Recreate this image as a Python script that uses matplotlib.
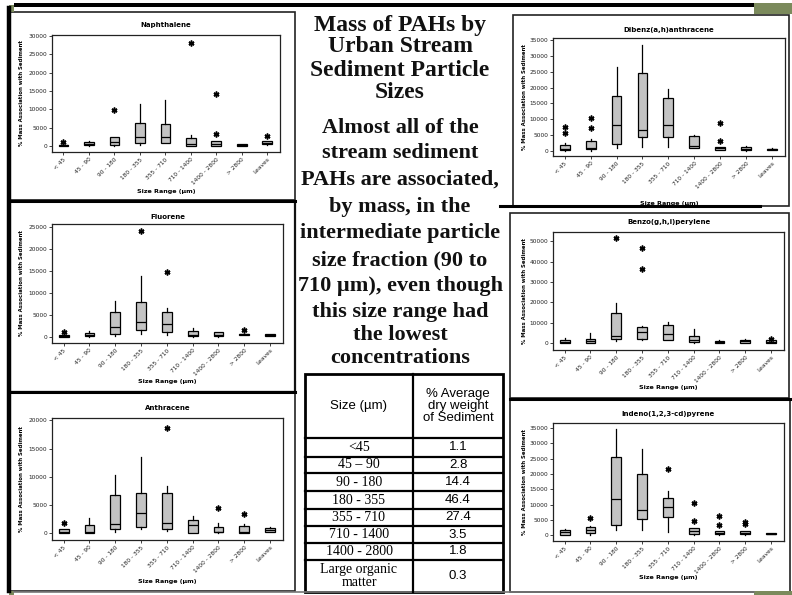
import matplotlib
matplotlib.use("Agg")
import matplotlib.pyplot as plt
from matplotlib.patches import Rectangle
from matplotlib.lines import Line2D

W, H = 792, 595

# Size classes on every box plot
categories = ["< 45", "45 - 90", "90 - 180", "180 - 355", "355 - 710",
              "710 - 1400", "1400 - 2800", "> 2800", "Leaves"]

# Box statistics per size class: [whisker low, Q1, median, Q3, whisker high]
naphthalene = [[0, 100, 250, 400, 700], [0, 200, 600, 1100, 1400],
               [0, 200, 1100, 2550, 2600], [350, 900, 2550, 6300, 11600],
               [900, 900, 2550, 5900, 12700], [0, 0, 600, 2300, 2900],
               [0, 0, 500, 1400, 1400], [100, 100, 300, 500, 500],
               [300, 450, 900, 1400, 1400]]
naphthalene_out = [(0, 1200), (2, 9750), (5, 28200), (6, 3400), (6, 14100), (8, 2650)]

fluorene = [[0, 0, 250, 500, 600], [0, 100, 500, 900, 1450],
            [300, 600, 2150, 5600, 8200], [750, 1600, 3300, 8050, 14000],
            [400, 1200, 2900, 5600, 6650], [0, 100, 500, 1300, 2050],
            [0, 100, 400, 1050, 1200], [400, 400, 550, 700, 700],
            [300, 300, 500, 700, 700]]
fluorene_out = [(0, 1150), (3, 24100), (4, 14750), (7, 1600)]

anthracene = [[100, 100, 250, 700, 800], [0, 100, 300, 1400, 2650],
              [300, 700, 1600, 6800, 10300], [800, 1180, 3650, 7050, 13500],
              [450, 800, 1750, 7200, 8350], [0, 0, 1400, 2300, 3150],
              [100, 250, 300, 1050, 1900], [100, 100, 250, 1250, 1600],
              [200, 300, 600, 900, 1200]]
anthracene_out = [(0, 1760), (4, 18700), (6, 4450), (7, 3450)]

dibenz = [[0, 200, 500, 1700, 2300], [0, 500, 950, 3100, 3600],
          [950, 2000, 8050, 17400, 26500], [1050, 4450, 6450, 24600, 33600],
          [1000, 4450, 8150, 16750, 19500], [700, 850, 1600, 4550, 4900],
          [200, 200, 900, 1270, 1300], [0, 100, 600, 1050, 1600],
          [200, 300, 450, 600, 800]]
dibenz_out = [(0, 5500), (0, 7400), (1, 7300), (1, 10300), (6, 3000), (6, 8900)]

benzo = [[0, 0, 800, 1600, 2600], [0, 300, 1300, 2000, 4900],
         [1100, 2300, 3400, 14700, 19600], [1800, 2000, 5400, 8150, 8500],
         [1500, 1600, 4700, 8800, 10300], [300, 500, 1600, 3400, 6850],
         [0, 150, 700, 1300, 1500], [200, 300, 900, 1450, 2300],
         [200, 300, 700, 1450, 1800]]
benzo_out = [(2, 51700), (3, 46900), (3, 36300), (8, 2200)]

indeno = [[0, 200, 1000, 1640, 2100], [200, 900, 1750, 2600, 3000],
          [1650, 3500, 11900, 25400, 34800], [1650, 5250, 8400, 19900, 28100],
          [1000, 5800, 9300, 12000, 14550], [0, 450, 1300, 2300, 2400],
          [0, 300, 800, 1300, 1400], [0, 300, 800, 1300, 1500],
          [300, 300, 500, 700, 700]]
indeno_out = [(1, 5500), (4, 21550), (5, 4500), (5, 10600), (6, 3300), (6, 6350),
              (7, 3700), (7, 4250)]

# Sediment dry-weight fractions table
table_sizes = ["<45", "45 \u2013 90", "90 - 180", "180 - 355", "355 - 710",
               "710 - 1400", "1400 - 2800", "Large organic\nmatter"]
table_pct = ["1.1", "2.8", "14.4", "46.4", "27.4", "3.5", "1.8", "0.3"]

title_lines = ["Mass of PAHs by", "Urban Stream", "Sediment Particle", "Sizes"]
body_lines = ["Almost all of the", "stream sediment", "PAHs are associated,",
              "by mass, in the", "intermediate particle", "size fraction (90 to",
              "710 \u00b5m), even though", "this size range had", "the lowest",
              "concentrations"]

fig = plt.figure(figsize=(W / 100, H / 100), dpi=100)
fig.patch.set_facecolor("white")


def fx(x):
    return x / W


def fy(y):
    return 1 - y / H


def px_axes(l, t, r, b, **kw):
    return fig.add_axes([fx(l), fy(b), (r - l) / W, (b - t) / H], **kw)


def rect(x0, y0, x1, y1, **kw):
    fig.add_artist(Rectangle((fx(x0), fy(y1)), (x1 - x0) / W, (y1 - y0) / H,
                             transform=fig.transFigure, **kw))


def hline(x0, x1, y, **kw):
    fig.add_artist(Line2D([fx(x0), fx(x1)], [fy(y), fy(y)], transform=fig.transFigure, **kw))


def vline(x, y0, y1, **kw):
    fig.add_artist(Line2D([fx(x), fx(x)], [fy(y0), fy(y1)], transform=fig.transFigure, **kw))


# Panel frames
rect(9, 12, 295, 200, fill=False, edgecolor="#222222", lw=1.2)
rect(9, 201, 295, 392, fill=False, edgecolor="#111111", lw=1.6)
rect(9, 393, 295, 591, fill=False, edgecolor="#222222", lw=1.2)
rect(513, 15, 789, 206, fill=False, edgecolor="#222222", lw=1.2)
rect(510, 213, 789, 398, fill=False, edgecolor="#222222", lw=1.2)
rect(510, 399, 790, 592, fill=False, edgecolor="#222222", lw=1.2)
hline(9, 295, 201, color="black", lw=2.2)
hline(9, 295, 392, color="black", lw=2.2)
hline(500, 760, 206, color="black", lw=2.2)
hline(510, 790, 399, color="black", lw=2.2)

# Slide decorations
rect(14, 3, 755, 7, facecolor="black", edgecolor="none")
vline(9, 8, 591, color="black", lw=3.2)
rect(9, 5, 14, 12, facecolor="#7b8a5c", edgecolor="none")
rect(754, 3, 792, 14, facecolor="#7b8a5c", edgecolor="none")
rect(754, 591, 792, 595, facecolor="#7b8a5c", edgecolor="none")
rect(9, 591, 14, 595, facecolor="#7b8a5c", edgecolor="none")
hline(14, 754, 591.5, color="#777777", lw=1.2)

panels = [
    ("Naphthalene", naphthalene, naphthalene_out, (52, 35, 280, 152), (-1600, 30300), 5000, 25, 192, 22),
    ("Fluorene", fluorene, fluorene_out, (52, 224, 283, 343), (-1400, 25750), 5000, 217, 382, 22),
    ("Anthracene", anthracene, anthracene_out, (52, 418, 283, 540), (-1180, 20400), 5000, 408, 582, 22),
    ("Dibenz(a,h)anthracene", dibenz, dibenz_out, (553, 38, 785, 156), (-1700, 35750), 5000, 30, 203, 525),
    ("Benzo(g,h,i)perylene", benzo, benzo_out, (553, 232, 784, 350), (-3300, 54500), 10000, 222, 388, 525),
    ("Indeno(1,2,3-cd)pyrene", indeno, indeno_out, (553, 423, 784, 541), (-1860, 36600), 5000, 414, 578, 525),
]

for name, stats_rows, outliers, box, ylim, step, ty, xly, ylx in panels:
    l, t, r, b = box
    ax = px_axes(l, t, r, b)
    stats = []
    for i, (lo, q1, med, q3, hi) in enumerate(stats_rows):
        stats.append(dict(whislo=lo, q1=q1, med=med, q3=q3, whishi=hi,
                          fliers=[v for (k, v) in outliers if k == i]))
    ax.bxp(stats, positions=list(range(1, len(categories) + 1)), widths=0.38,
           patch_artist=True, showcaps=False,
           boxprops=dict(facecolor="#c3c3c3", edgecolor="black", linewidth=0.9),
           medianprops=dict(color="black", linewidth=0.9),
           whiskerprops=dict(color="black", linewidth=0.9),
           flierprops=dict(marker=(6, 2, 0), markersize=4.2, markeredgecolor="black",
                           markeredgewidth=1.1, linestyle="none"))
    ax.set_xlim(0.55, 9.5)
    ax.set_ylim(*ylim)
    ax.set_yticks(list(range(0, int(ylim[1]) + 1, step)))
    ax.set_yticklabels([str(v) for v in range(0, int(ylim[1]) + 1, step)], fontsize=4.2)
    ax.set_xticks(list(range(1, len(categories) + 1)))
    ax.set_xticklabels(categories, fontsize=4.2, rotation=45, ha="right",
                       rotation_mode="anchor")
    ax.tick_params(length=2, width=0.6, pad=1.5, colors="#222222")
    for s in ax.spines.values():
        s.set_linewidth(0.9)
        s.set_color("#222222")
    cx = (l + r) / 2
    fig.text(fx(cx), fy(ty), name, fontsize=5, fontweight="bold", ha="center", va="center")
    fig.text(fx(cx), fy(xly), "Size Range (\u00b5m)", fontsize=4.6, fontweight="bold",
             ha="center", va="center")
    fig.text(fx(ylx), fy((t + b) / 2), "% Mass Association with Sediment", fontsize=3.9,
             fontweight="bold", rotation=90, ha="center", va="center")

# Centre heading and summary text
serif = ["Liberation Serif", "DejaVu Serif"]
for y, line in zip([25, 47, 70, 93], title_lines):
    fig.text(fx(400), fy(y), line, fontsize=17, fontweight="bold", family=serif,
             ha="center", va="center", color="#111111")
for y, line in zip([128, 153, 180, 207, 233, 260, 286, 312, 335, 358], body_lines):
    fig.text(fx(400), fy(y), line, fontsize=16, fontweight="bold", family=serif,
             ha="center", va="center", color="#111111")

# Table of dry-weight fractions
tl, tr, tt, tb = 305, 503, 374, 592
cdiv = 413
row_edges = [438, 457, 473, 491, 509, 526, 543, 560, 592]
rect(tl, tt, tr, tb, fill=False, edgecolor="black", lw=2.0)
vline(cdiv, tt, tb, color="black", lw=1.6)
for ye in row_edges[:-1]:
    hline(tl, tr, ye, color="black", lw=1.6)
sans = ["Liberation Sans", "DejaVu Sans"]
fig.text(fx((tl + cdiv) / 2), fy((tt + row_edges[0]) / 2), "Size (\u00b5m)",
         fontsize=9.5, family=sans, ha="center", va="center")
fig.text(fx((cdiv + tr) / 2), fy((tt + row_edges[0]) / 2), "% Average\ndry weight\nof Sediment",
         fontsize=9.5, family=sans, ha="center", va="center", linespacing=0.95)
tops = [row_edges[0]] + row_edges[:-1]
for i, (sz, pct) in enumerate(zip(table_sizes, table_pct)):
    y0, y1 = row_edges[i - 1] if i > 0 else row_edges[0], row_edges[i]
    y0 = row_edges[i]
    y1 = row_edges[i + 1]
    yc = (y0 + y1) / 2
    fig.text(fx((tl + cdiv) / 2), fy(yc), sz, fontsize=10, family=serif,
             ha="center", va="center", linespacing=0.9)
    fig.text(fx((cdiv + tr) / 2), fy(yc), pct, fontsize=9.5, family=sans,
             ha="center", va="center")

fig.savefig("out.png", dpi=100)
